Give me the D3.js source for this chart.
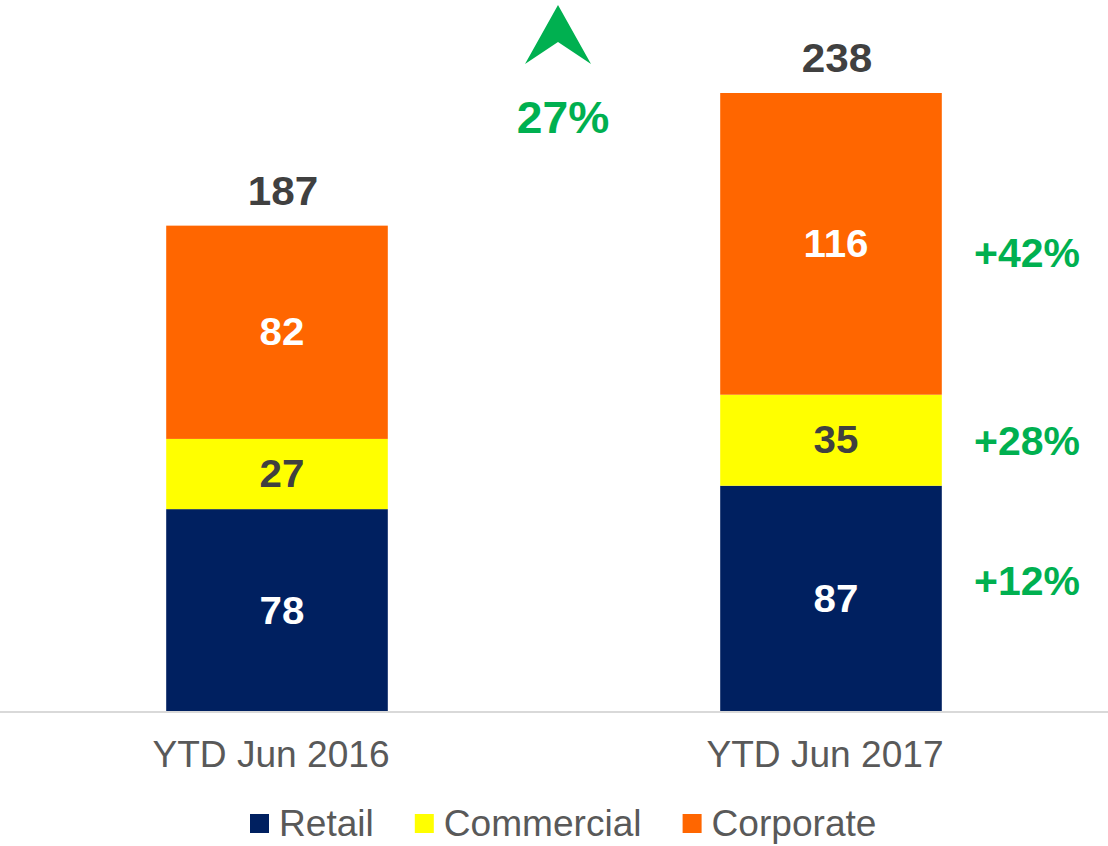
<!DOCTYPE html>
<html>
<head>
<meta charset="utf-8">
<script src="https://cdn.jsdelivr.net/npm/d3@7"></script>
<style>
  html, body { margin: 0; padding: 0; background: #fff; }
  svg { display: block; font-family: "Liberation Sans", Arial, sans-serif; }
</style>
</head>
<body>
<svg id="chart" width="1108" height="846"></svg>
<script>
// ---- data ----
const categories = ["YTD Jun 2016", "YTD Jun 2017"];
const seriesNames = ["Retail", "Commercial", "Corporate"];
const retail = [78, 87];
const commercial = [27, 35];
const corporate = [82, 116];
const totals = [187, 238];
const growthLabels = ["+12%", "+28%", "+42%"];
const totalGrowth = "27%";

// ---- styles / layout ----
const colors = { Retail: "#002060", Commercial: "#FFFF00", Corporate: "#FF6600" };
const labelColors = { Retail: "#FFFFFF", Commercial: "#404040", Corporate: "#FFFFFF" };
const green = "#00B050";
const W = 1108, H = 846;
const baseY = 712, topY = 93;
const growthDy = [-4, 15, 23];

const svg = d3.select("#chart");

// horizontally stretch text slightly (reference glyphs are a bit wider)
function stretch(sel, f) {
  sel.each(function () {
    const len = this.getComputedTextLength();
    d3.select(this).attr("textLength", len * f).attr("lengthAdjust", "spacingAndGlyphs");
  });
}

const rows = categories.map((c, i) => ({ cat: c, Retail: retail[i], Commercial: commercial[i], Corporate: corporate[i], total: totals[i] }));
const stack = d3.stack().keys(seriesNames)(rows);

const x = d3.scaleBand().domain(categories).range([0, W]).paddingInner(0.6).paddingOuter(0.3);
const y = d3.scaleLinear().domain([0, d3.max(totals)]).range([baseY, topY]);

// bars
const layers = svg.selectAll("g.layer").data(stack).join("g").attr("class", "layer")
  .attr("fill", d => colors[d.key]);
layers.selectAll("rect").data(d => d).join("rect")
  .attr("x", d => x(d.data.cat))
  .attr("width", x.bandwidth())
  .attr("y", d => y(d[1]))
  .attr("height", d => y(d[0]) - y(d[1]));

// segment labels
stack.forEach(layer => {
  const t = svg.append("g").selectAll("text").data(layer).join("text")
    .attr("x", d => x(d.data.cat) + x.bandwidth() / 2 + 5)
    .attr("y", d => (y(d[0]) + y(d[1])) / 2 + 13)
    .attr("text-anchor", "middle")
    .attr("font-size", 38).attr("font-weight", "bold")
    .attr("fill", labelColors[layer.key])
    .text(d => d[1] - d[0]);
  stretch(t, 1.06);
});

// totals
const tt = svg.append("g").selectAll("text").data(rows).join("text")
  .attr("x", d => x(d.cat) + x.bandwidth() / 2 + 6)
  .attr("y", d => y(d.total) - 21)
  .attr("text-anchor", "middle")
  .attr("font-size", 41).attr("font-weight", "bold")
  .attr("fill", "#404040")
  .text(d => d.total);
stretch(tt, 1.03);

// axis baseline
const xAxis = d3.axisBottom(x).tickSize(0).tickPadding(0);
const ax = svg.append("g").attr("transform", `translate(0,${baseY})`).call(xAxis);
ax.select(".domain").attr("stroke", "#D9D9D9").attr("stroke-width", 2).attr("d", `M0,0H${W}`);
const tl = ax.selectAll(".tick text")
  .attr("y", 55).attr("dy", 0).attr("dx", -6)
  .attr("font-size", 36).attr("font-family", "Liberation Sans, Arial, sans-serif")
  .attr("fill", "#595959");
stretch(tl, 1.03);

// growth labels beside second bar
const last = categories.length - 1;
const gx = 1027;
svg.append("g").selectAll("text").data(stack).join("text")
  .attr("x", gx)
  .attr("y", (d, i) => (y(d[last][0]) + y(d[last][1])) / 2 + growthDy[i])
  .attr("text-anchor", "middle")
  .attr("font-size", 41).attr("font-weight", "bold")
  .attr("fill", green)
  .text((d, i) => growthLabels[i]);

// arrow + total growth
const ax0 = 558;
svg.append("path")
  .attr("d", `M${ax0},5 L${ax0 + 33},64 L${ax0},42 L${ax0 - 33},64 Z`)
  .attr("fill", green);
const tg = svg.append("text")
  .attr("x", 563).attr("y", 133)
  .attr("text-anchor", "middle")
  .attr("font-size", 44).attr("font-weight", "bold")
  .attr("fill", green)
  .text(totalGrowth);
stretch(tg, 1.05);

// legend
const leg = svg.append("g");
let lx = 250;
seriesNames.forEach(name => {
  leg.append("rect").attr("x", lx).attr("y", 814).attr("width", 19).attr("height", 19).attr("fill", colors[name]);
  const t = leg.append("text").attr("x", lx + 29).attr("y", 836)
    .attr("font-size", 36).attr("fill", "#595959").text(name);
  const w = t.node().getComputedTextLength() * 1.03;
  t.attr("textLength", w).attr("lengthAdjust", "spacingAndGlyphs");
  lx += 29 + w + 41;
});
</script>
</body>
</html>
